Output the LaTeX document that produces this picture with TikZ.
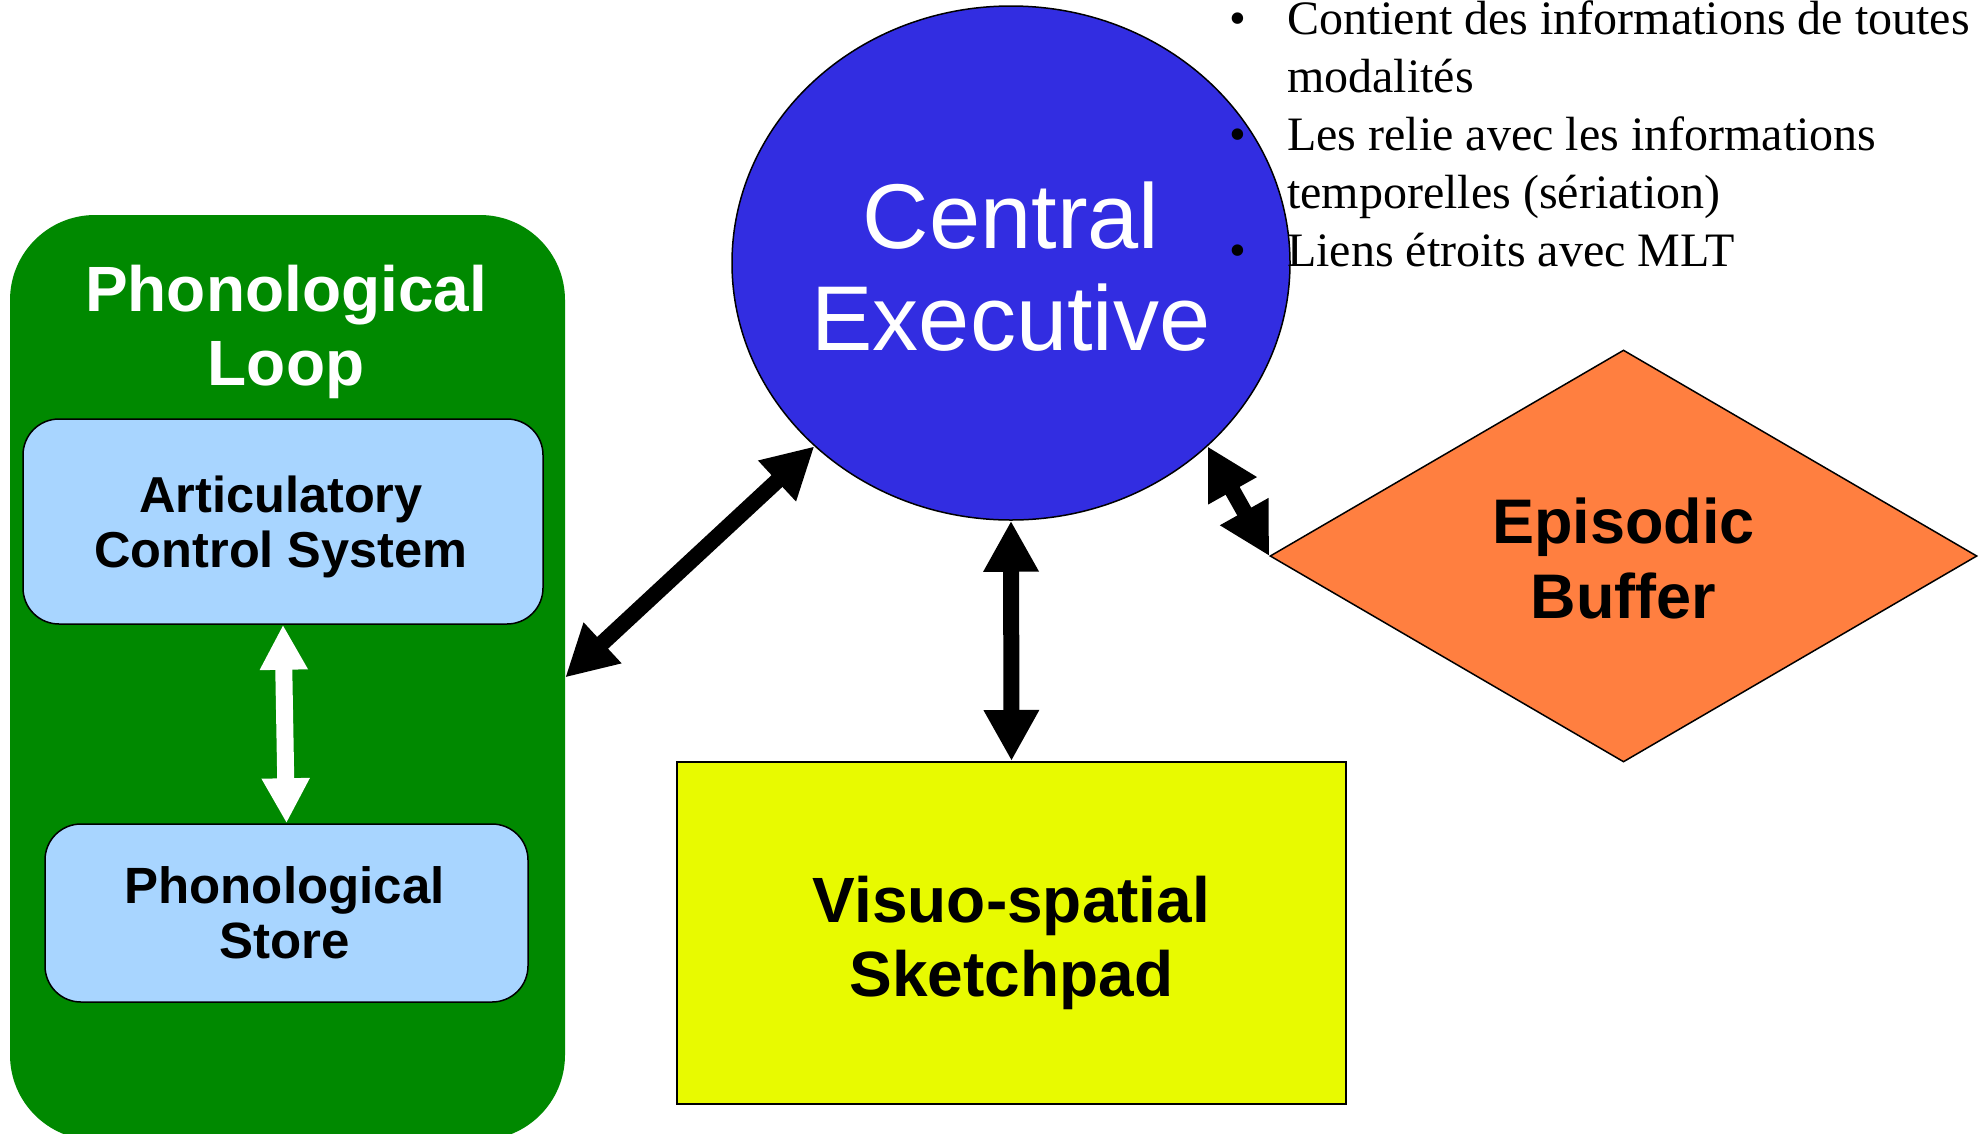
\documentclass[tikz,border=0pt]{standalone}
\usepackage{fontspec}
\setmainfont{Liberation Serif}
\newfontfamily\lsans{Liberation Sans}
\usetikzlibrary{shapes.geometric,arrows.meta}
\definecolor{loopgreen}{RGB}{0,137,0}
\definecolor{boxblue}{RGB}{168,213,255}
\definecolor{ceblue}{RGB}{50,45,225}
\definecolor{eborange}{RGB}{255,127,64}
\definecolor{vsyellow}{RGB}{232,250,0}
\begin{document}
\begin{tikzpicture}[x=1pt,y=-1pt,
  lbl/.style={align=center, inner sep=0pt},
  subbox/.style={draw=black, line width=1.5pt, fill=boxblue, rounded corners=36pt, inner sep=0pt},
  bigarrow/.style={line width=16pt, {Triangle[length=51pt,width=52pt]}-{Triangle[length=51pt,width=52pt]}},
  whitearrow/.style={draw=white, line width=17pt, {Triangle[length=45pt,width=45pt]}-{Triangle[length=45pt,width=45pt]}}]
\useasboundingbox (0,0) rectangle (1981,1133);
% Phonological loop container
\node[fill=loopgreen, rounded corners=85pt, minimum width=555pt, minimum height=925pt, inner sep=0pt] (pl) at (287.5,677.5) {};
\node[lbl, text=white, font=\lsans\bfseries\fontsize{64}{74}\selectfont] (pltitle) at (286,332.4) {Phonological\\Loop};
\node[subbox, minimum width=520pt, minimum height=205pt] (acs) at (283,521.5) {};
\node[lbl, font=\lsans\bfseries\fontsize{50.5}{55}\selectfont] (acstext) at (281,527) {Articulatory\\Control System};
\node[subbox, minimum width=483pt, minimum height=178pt] (ps) at (286.5,913) {};
\node[lbl, font=\lsans\bfseries\fontsize{51}{55}\selectfont] (pstext) at (284.5,913) {Phonological\\Store};
\draw[whitearrow] (acs.south) -- (ps.north);
% Central executive
\node[ellipse, draw=black, line width=1.5pt, fill=ceblue, minimum width=558pt, minimum height=514pt, inner sep=0pt] (ce) at (1011,263) {};
\node[lbl, text=white, font=\lsans\fontsize{92}{102}\selectfont] (cetext) at (1011,266.5) {Central\\Executive};
% Episodic buffer
\node[diamond, draw=black, line width=1.5pt, fill=eborange, minimum width=707pt, minimum height=412pt, aspect=1.716, inner sep=0pt] (eb) at (1623.5,556) {};
\node[lbl, font=\lsans\bfseries\fontsize{63}{74.5}\selectfont] (ebtext) at (1623.5,558.7) {Episodic\\Buffer};
% Visuo-spatial sketchpad
\node[draw=black, line width=2pt, fill=vsyellow, minimum width=669pt, minimum height=342pt, inner sep=0pt] (vs) at (1011.5,933) {};
\node[lbl, font=\lsans\bfseries\fontsize{64}{74.5}\selectfont] (vstext) at (1011.5,943) {Visuo-spatial\\Sketchpad};
% Connectors
\draw[bigarrow] (ce.south) -- (vs.north);
\draw[bigarrow] (ce.223) -- (pl.east);
\draw[bigarrow] (ce.317) -- (eb.west);
% Notes
\node[anchor=base west, inner sep=0pt, font=\fontsize{48}{58}\selectfont] (notes) at (1229,34) {%
\begin{tabular}[t]{@{}p{58pt}@{}l@{}}
\textbullet & Contient des informations de toutes\\
 & modalités\\
\textbullet & Les relie avec les informations\\
 & temporelles (sériation)\\
\textbullet & Liens étroits avec MLT
\end{tabular}};
\end{tikzpicture}
\end{document}
